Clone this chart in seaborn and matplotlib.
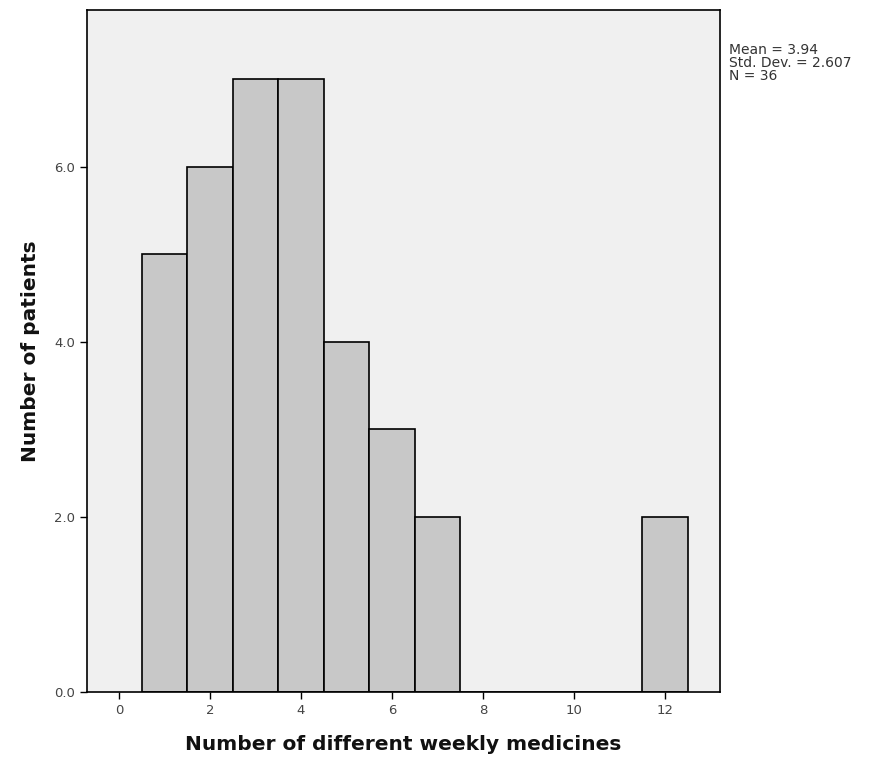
import matplotlib
matplotlib.use("Agg")
import matplotlib.pyplot as plt
import seaborn as sns
import pandas as pd

# Data
medicines = [1, 2, 3, 4, 5, 6, 7, 12]
patients = [5, 6, 7, 7, 4, 3, 2, 2]
x_ticks = [0, 2, 4, 6, 8, 10, 12]
y_ticks = [0, 2, 4, 6]
stats_text = "Mean = 3.94\nStd. Dev. = 2.607\nN = 36"

sns.set_theme(style="white")
plt.rcParams['font.family'] = ['DejaVu Sans']

df = pd.DataFrame({"medicines": medicines, "patients": patients})

fig = plt.figure(figsize=(8.77, 7.63), dpi=100)
ax = fig.add_axes([87/877, 71/763, (720-87)/877, (692-10)/763])
ax.set_facecolor("#f0f0f0")

sns.histplot(data=df, x="medicines", weights="patients", discrete=True,
             color="#c8c8c8", edgecolor="black", linewidth=1.2, alpha=1, ax=ax)

ax.set_xlim(-0.70, 13.21)
ax.set_ylim(0, 7.79)
ax.set_xticks(x_ticks)
ax.set_xticklabels([str(t) for t in x_ticks])
ax.set_yticks(y_ticks)
ax.set_yticklabels([f"{t:.1f}" for t in y_ticks])
ax.tick_params(axis="both", which="both", direction="out", length=5, width=1,
               color="black", labelsize=9.5, labelcolor="#444444",
               bottom=True, left=True)
for s in ax.spines.values():
    s.set_color("black")
    s.set_linewidth(1.2)

ax.set_xlabel("Number of different weekly medicines", fontsize=14.5,
              fontweight="bold", labelpad=13, color="#111111")
ax.set_ylabel("Number of patients", fontsize=14.5, fontweight="bold",
              labelpad=10, color="#111111")

fig.text(729/877, 1 - 43/763, stats_text, fontsize=10, color="#333333",
         va="top", ha="left", linespacing=0.9)

fig.savefig("out.png", dpi=100, facecolor="white")
